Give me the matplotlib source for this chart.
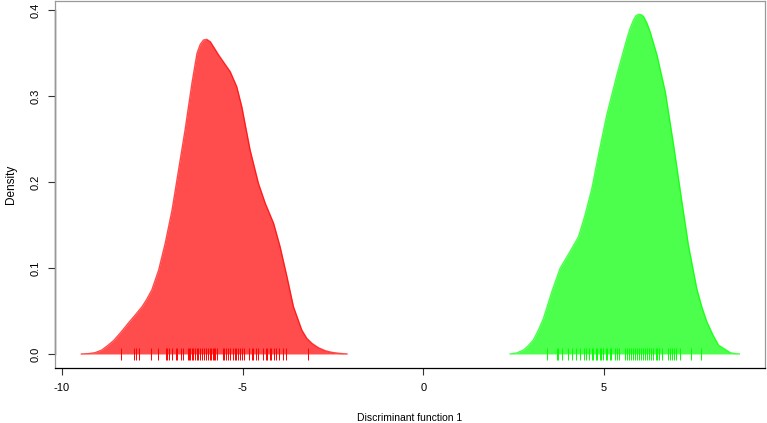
import matplotlib
matplotlib.use("Agg")
import matplotlib.pyplot as plt

plt.rcParams['font.family'] = ['Liberation Sans', 'DejaVu Sans']

# density curves (discriminant function 1)
red_x = [-9.46, -9.26, -9.08, -8.89, -8.71, -8.57, -8.43, -8.29, -8.15, -7.97,
         -7.78, -7.65, -7.51, -7.32, -7.14, -6.95, -6.77, -6.59, -6.40, -6.26,
         -6.17, -6.08, -5.99, -5.89, -5.66, -5.34, -5.16, -5.02, -4.79, -4.56,
         -4.37, -4.14, -3.96, -3.77, -3.59, -3.36, -3.22, -3.08, -2.90, -2.71,
         -2.53, -2.34, -2.11]
red_y = [0.0, 0.0004, 0.0015, 0.0047, 0.0105, 0.0155, 0.0221, 0.0291, 0.0364, 0.0453,
         0.0550, 0.0636, 0.0744, 0.0977, 0.1287, 0.1674, 0.2140, 0.2605, 0.3148, 0.3496,
         0.3600, 0.3651, 0.3659, 0.3631, 0.3477, 0.3283, 0.3109, 0.2876, 0.2372, 0.1985,
         0.1752, 0.1520, 0.1248, 0.0899, 0.0550, 0.0279, 0.0182, 0.0124, 0.0073, 0.0038,
         0.0019, 0.0008, 0.0]

green_x = [2.41, 2.59, 2.78, 2.91, 3.05, 3.19, 3.33, 3.56, 3.79, 4.02,
           4.30, 4.48, 4.67, 4.85, 5.08, 5.36, 5.64, 5.73, 5.82, 5.89,
           5.96, 6.04, 6.10, 6.19, 6.28, 6.47, 6.70, 6.93, 7.16, 7.34,
           7.57, 7.71, 7.85, 8.02, 8.17, 8.50, 8.63, 8.75]
green_y = [0.0, 0.0012, 0.0047, 0.0097, 0.0163, 0.0279, 0.0415, 0.0724, 0.0997, 0.1159,
           0.1364, 0.1616, 0.1927, 0.2314, 0.2779, 0.3244, 0.3671, 0.3790, 0.3884, 0.3934,
           0.3950, 0.3945, 0.3922, 0.3850, 0.3748, 0.3477, 0.3050, 0.2430, 0.1771, 0.1267,
           0.0764, 0.0550, 0.0376, 0.0221, 0.0105, 0.0015, 0.0004, 0.0]

# individual scores (rug)
red_pts = [-8.37, -7.99, -7.94, -7.86, -7.52, -7.35, -7.11, -7.08, -7.04, -6.95,
           -6.85, -6.80, -6.69, -6.65, -6.52, -6.48, -6.45, -6.39, -6.36, -6.32,
           -6.26, -6.23, -6.17, -6.12, -6.06, -6.00, -5.95, -5.89, -5.86, -5.82,
           -5.78, -5.75, -5.71, -5.54, -5.51, -5.45, -5.40, -5.34, -5.27, -5.21,
           -5.17, -5.12, -5.06, -5.01, -4.97, -4.81, -4.75, -4.70, -4.64, -4.57,
           -4.44, -4.36, -4.31, -4.25, -4.20, -4.14, -4.07, -3.98, -3.87, -3.81,
           -3.20]
green_pts = [3.44, 3.70, 3.74, 3.84, 4.02, 4.11, 4.23, 4.34, 4.45, 4.51,
             4.60, 4.66, 4.71, 4.77, 4.82, 4.88, 4.93, 4.99, 5.05, 5.10,
             5.16, 5.19, 5.30, 5.36, 5.41, 5.58, 5.64, 5.69, 5.75, 5.80,
             5.86, 5.91, 5.97, 6.02, 6.08, 6.13, 6.19, 6.25, 6.30, 6.36,
             6.43, 6.48, 6.54, 6.61, 6.78, 6.83, 6.89, 6.94, 7.00, 7.11,
             7.41, 7.68]

xticks = [-10, -5, 0, 5]
yticks = [0.0, 0.1, 0.2, 0.3, 0.4]

fig = plt.figure(figsize=(7.67, 4.23), dpi=100)
ax = fig.add_axes([55/767, 55/423, 710/767, 367/423])

for xs, ys, pts, col in [(red_x, red_y, red_pts, '#FF0000'),
                         (green_x, green_y, green_pts, '#00FF00')]:
    ax.fill_between(xs, ys, 0, color=col, alpha=0.7, linewidth=0)
    ax.plot(xs, ys, color=col, alpha=0.7, linewidth=1, solid_joinstyle='round')
    ax.plot(pts, [0] * len(pts), '|', color=col, ms=8, mew=0.7)

ax.set_xlim(-10.19, 9.46)
ax.set_ylim(-0.0163, 0.4105)

ax.set_xticks(xticks)
ax.set_xticklabels([str(t) for t in xticks])
ax.set_yticks(yticks)
ax.set_yticklabels(['%.1f' % t for t in yticks], rotation=90, va='center')
ax.tick_params(direction='out', length=5, width=0.8, color='#333333',
               labelsize=8, pad=6)
ax.tick_params(axis='y', pad=5)

for side in ['top', 'right', 'left']:
    ax.spines[side].set_color('#999999')
ax.spines['bottom'].set_color('#000000')
for sp in ax.spines.values():
    sp.set_linewidth(0.9)
# axis line along the tick range on the left
ax.plot([0, 0], [0.0, 0.4], transform=ax.get_yaxis_transform(),
        color='#555555', linewidth=1, clip_on=False)

ax.set_xlabel('Discriminant function 1', fontsize=7.5, labelpad=14)
ax.set_ylabel('Density', fontsize=8.5, labelpad=10)

fig.savefig('out.png', dpi=100)
